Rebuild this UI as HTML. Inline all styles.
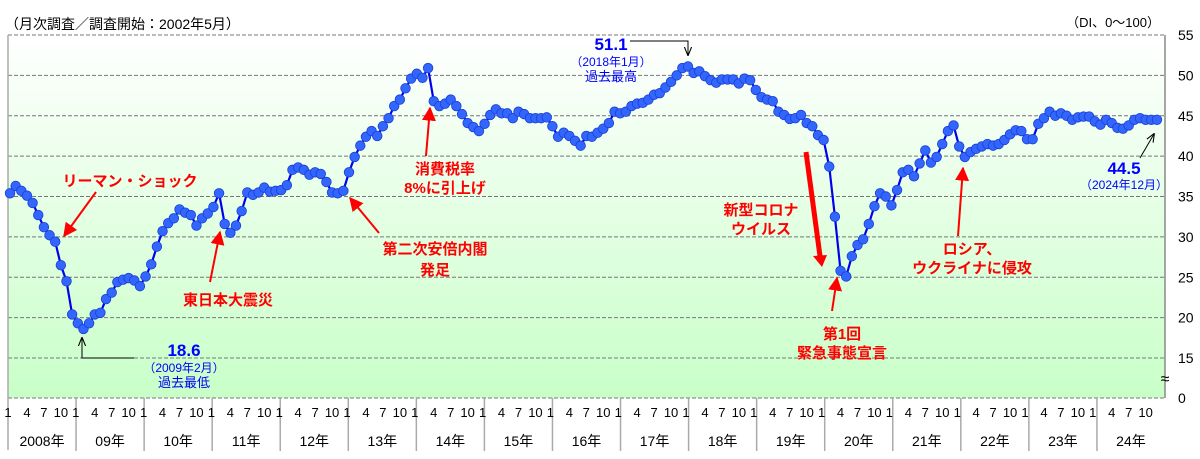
<!DOCTYPE html>
<html><head><meta charset="utf-8">
<style>
body{margin:0;background:#fff;}
svg{display:block;font-family:"Liberation Sans","Noto Sans CJK JP",sans-serif;}
.red{fill:#ff0000;font-weight:bold;font-size:15px;}
.blue{fill:#0000ff;}
</style></head>
<body>
<svg id="chart" width="1200" height="459" viewBox="0 0 1200 459" xmlns="http://www.w3.org/2000/svg">
<defs>
<linearGradient id="bg" x1="0" y1="0" x2="0" y2="1">
<stop offset="0" stop-color="#ffffff"/><stop offset="1" stop-color="#c8ffc8"/>
</linearGradient>
<marker id="ar" viewBox="0 0 10 10" refX="9" refY="5" markerWidth="7" markerHeight="7" orient="auto-start-reverse"><path d="M0,0 L10,5 L0,10 z" fill="#ff0000"/></marker>
<marker id="ak" viewBox="0 0 10 10" refX="9" refY="5" markerWidth="9" markerHeight="9" orient="auto"><path d="M0,1 L10,5 L0,9" fill="none" stroke="#000" stroke-width="1.2"/></marker>
</defs>
<rect x="8" y="35" width="1157" height="363" fill="url(#bg)"/>
<g id="grid"></g>
<g id="axes"></g>
<g id="series"></g>
<text x="5" y="29" font-size="14" fill="#000">（月次調査／調査開始：2002年5月）</text>
<text x="1160" y="27" font-size="13" fill="#000" text-anchor="end">（DI、0～100）</text>

<g>
<text class="red" x="130" y="186" text-anchor="middle">リーマン・ショック</text>
<line x1="96" y1="192" x2="64" y2="236" stroke="#f00" stroke-width="2" marker-end="url(#ar)"/>
</g>
<g>
<text class="red" x="228" y="305" text-anchor="middle">東日本大震災</text>
<line x1="210" y1="282" x2="220" y2="232" stroke="#f00" stroke-width="2" marker-end="url(#ar)"/>
</g>
<g>
<text class="red" x="435" y="254" text-anchor="middle">第二次安倍内閣</text>
<text class="red" x="435" y="275" text-anchor="middle">発足</text>
<line x1="379" y1="233" x2="350" y2="198" stroke="#f00" stroke-width="2" marker-end="url(#ar)"/>
</g>
<g>
<text class="red" x="445" y="174" text-anchor="middle">消費税率</text>
<text class="red" x="445" y="193" text-anchor="middle">8%に引上げ</text>
<line x1="426" y1="156" x2="430" y2="108" stroke="#f00" stroke-width="2" marker-end="url(#ar)"/>
</g>
<g>
<text class="red" x="761" y="215" text-anchor="middle">新型コロナ</text>
<text class="red" x="761" y="234" text-anchor="middle">ウイルス</text>
<line x1="806" y1="152" x2="820" y2="256" stroke="#f00" stroke-width="5"/>
<path d="M813,256 L827,255 L822,267 z" fill="#f00"/>
</g>
<g>
<text class="red" x="842" y="339" text-anchor="middle">第1回</text>
<text class="red" x="842" y="358" text-anchor="middle">緊急事態宣言</text>
<line x1="832" y1="311" x2="837" y2="278" stroke="#f00" stroke-width="2" marker-end="url(#ar)"/>
</g>
<g>
<text class="red" x="972" y="254" text-anchor="middle">ロシア、</text>
<text class="red" x="972" y="273" text-anchor="middle">ウクライナに侵攻</text>
<line x1="958" y1="236" x2="963" y2="168" stroke="#f00" stroke-width="2" marker-end="url(#ar)"/>
</g>
<g>
<text class="blue" x="184" y="356" text-anchor="middle" font-size="17" font-weight="bold">18.6</text>
<text class="blue" x="184" y="372" text-anchor="middle" font-size="12">（2009年2月）</text>
<text class="blue" x="184" y="387" text-anchor="middle" font-size="13">過去最低</text>
<polyline points="134,358 82,358 82,338" fill="none" stroke="#000" stroke-width="1" marker-end="url(#ak)"/>
</g>
<g>
<text class="blue" x="611" y="50" text-anchor="middle" font-size="17" font-weight="bold">51.1</text>
<text class="blue" x="611" y="66" text-anchor="middle" font-size="12">（2018年1月）</text>
<text class="blue" x="611" y="81" text-anchor="middle" font-size="13">過去最高</text>
<polyline points="630,41 688,41 688,55" fill="none" stroke="#000" stroke-width="1" marker-end="url(#ak)"/>
</g>
<g>
<text class="blue" x="1124" y="174" text-anchor="middle" font-size="17" font-weight="bold">44.5</text>
<text class="blue" x="1124" y="189" text-anchor="middle" font-size="12">（2024年12月）</text>
<line x1="1140" y1="158" x2="1154" y2="134" stroke="#000" stroke-width="1" marker-end="url(#ak)"/>
</g>
</svg>
<script>
const years = ['2008年','09年','10年','11年','12年','13年','14年','15年','16年','17年','18年','19年','20年','21年','22年','23年','24年'];
const monthTicks = ['1','4','7','10'];
const yTicks = [0,15,20,25,30,35,40,45,50,55];
const di2008 = [35.4,36.3,35.7,35.1,34.2,32.7,31.2,30.2,29.4,26.5,24.5,20.4];
const di2009 = [19.3,18.6,19.3,20.4,20.6,22.3,23.1,24.4,24.7,24.9,24.6,23.9];
const di2010 = [25.1,26.6,28.8,30.7,31.7,32.3,33.4,33.0,32.7,31.4,32.3,32.9];
const di2011 = [33.7,35.4,31.6,30.5,31.4,33.2,35.5,35.2,35.5,36.1,35.6,35.7];
const di2012 = [35.8,36.4,38.3,38.6,38.3,37.7,38.0,37.8,36.8,35.5,35.4,35.7];
const di2013 = [38.0,39.9,41.3,42.4,43.1,42.5,43.7,44.7,46.2,47.0,48.4,49.6];
const di2014 = [50.2,49.7,50.9,46.8,46.2,46.5,47.0,46.2,45.2,44.1,43.6,43.1];
const di2015 = [44.0,45.1,45.8,45.3,45.3,44.7,45.5,45.2,44.7,44.7,44.7,44.8];
const di2016 = [43.7,42.4,42.9,42.5,41.9,41.3,42.5,42.4,42.9,43.4,44.1,45.5];
const di2017 = [45.3,45.5,46.2,46.5,46.6,47.0,47.6,47.8,48.5,49.2,50.0,50.9];
const di2018 = [51.1,50.3,50.5,49.9,49.4,49.1,49.5,49.5,49.5,49.0,49.6,49.4];
const di2019 = [48.2,47.3,47.0,46.8,45.5,45.1,44.6,44.7,45.1,44.1,43.7,42.6];
const di2020 = [42.0,38.7,32.5,25.8,25.1,27.6,29.0,29.7,31.6,33.8,35.4,35.0];
const di2021 = [33.9,35.8,38.0,38.3,37.5,39.1,40.7,39.2,39.9,41.5,43.1,43.8];
const di2022 = [41.2,39.9,40.5,40.9,41.2,41.5,41.3,41.5,42.0,42.7,43.2,43.1];
const di2023 = [42.1,42.1,44.0,44.7,45.5,45.0,45.3,45.0,44.5,44.8,44.9,44.9];
const di2024 = [44.3,43.9,44.5,44.1,43.5,43.4,43.8,44.5,44.7,44.5,44.5,44.5];
const values = [].concat(di2008,di2009,di2010,di2011,di2012,di2013,di2014,di2015,di2016,di2017,di2018,di2019,di2020,di2021,di2022,di2023,di2024);

const NS='http://www.w3.org/2000/svg';
const X0=8, X1=1165, YT=35, YB=398;
const monthW=(X1-X0)/(years.length*12);
function xScale(i){return X0+2+i*5.65;}
function yScale(v){ if(v<15) return YB; return YT+(55-v)*((358-YT)/40); }
function mk(tag,attrs,parent){const e=document.createElementNS(NS,tag);for(const k in attrs)e.setAttribute(k,attrs[k]);parent.appendChild(e);return e;}
const grid=document.getElementById('grid'), axes=document.getElementById('axes'), series=document.getElementById('series');

yTicks.forEach(t=>{
  const y=yScale(t);
  if(t>0){
    const l=mk('line',{x1:X0,x2:X1,y1:y,y2:y,stroke:'#777','stroke-width':1,'stroke-dasharray':'4,2'},grid);
    
    
  }
  const tx=mk('text',{x:1178,y:(t===0?YB:y)+5,'font-size':14,'text-anchor':'start',fill:'#000'},axes);
  tx.textContent=String(t);
  
  
});
const bl=mk('line',{x1:X0,x2:X1,y1:YB,y2:YB,stroke:'#777','stroke-width':1,'stroke-dasharray':'4,2'},grid);


const ra=mk('line',{x1:X1,x2:X1,y1:YT,y2:YB,stroke:'#888','stroke-width':1.5},axes);


const la=mk('line',{x1:X0,x2:X0,y1:YT,y2:450,stroke:'#aaa','stroke-width':1.5},axes);


const br=mk('text',{x:X1,y:384,'font-size':16,'text-anchor':'middle',fill:'#000'},axes);
br.textContent='≈';



years.forEach((yr,k)=>{
  const xs=X0+k*12*monthW;
  if(k>0){
    const sep=mk('line',{x1:xs,x2:xs,y1:YB,y2:451,stroke:'#aaa','stroke-width':1.5},axes);
    
    
  }
  monthTicks.forEach(m=>{
    const i=k*12+parseInt(m)-1;
    const t=mk('text',{x:xScale(i)-(m==='1'?2:0),y:417,'font-size':13,'text-anchor':'middle',fill:'#000'},axes);
    t.textContent=m;
    
    
  });
  const yl=mk('text',{x:xs+6*monthW,y:446,'font-size':14,'text-anchor':'middle',fill:'#000'},axes);
  yl.textContent=yr;
  
  
});

const pl=mk('polyline',{points:values.map((v,i)=>xScale(i)+','+yScale(v)).join(' '),fill:'none',stroke:'#0000ee','stroke-width':2.2},series);


values.forEach((v,i)=>{
  const c=mk('circle',{cx:xScale(i),cy:yScale(v),r:4.8,fill:'#3366ff',stroke:'#1a3fd0','stroke-width':0.8},series);
  
  
});
</script>
</body></html>
